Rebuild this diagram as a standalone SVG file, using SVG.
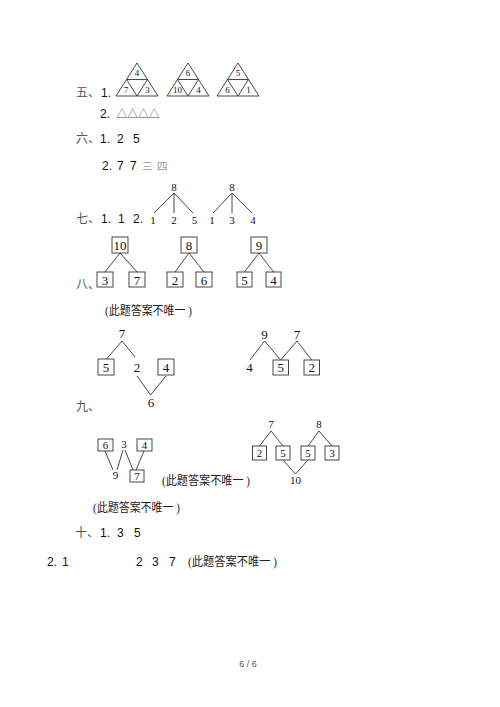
<svg xmlns="http://www.w3.org/2000/svg" width="500" height="707" viewBox="0 0 500 707">
<style>
.s{font-family:"Liberation Sans",Arial,sans-serif;font-size:12px;fill:#111}
.c{font-family:"Noto Sans CJK SC",sans-serif;font-size:12px;fill:#555}
.g{font-family:"Noto Sans CJK SC",sans-serif;font-size:10.5px;fill:#999}
.n{font-family:"Liberation Serif","Times New Roman",serif;fill:#111;text-anchor:middle}
.t8{font-size:9px}
.t10{font-size:11px}
.t13{font-size:13px}
.t11{font-size:11px}
.note{font-family:"Liberation Serif","Noto Sans CJK SC",serif;font-size:12px;fill:#222}
.ln{stroke:#333;stroke-width:0.9;fill:none}
.bx{stroke:#333;stroke-width:0.9;fill:#fff}
</style>
<rect width="500" height="707" fill="#fff"/>

<!-- 五 -->
<g id="label-wu">
<text class="c" x="76" y="97">五、</text>
<text class="s" x="101" y="97">1.</text>
</g>
<g id="tri1">
<path class="ln" d="M137,63 L116,96 L158,96 Z M126.5,79.5 L147.5,79.5 L137,96 Z"/>
<text class="n t8" x="137" y="76">4</text>
<text class="n t8" x="126" y="93">7</text>
<text class="n t8" x="147.5" y="93">3</text>
</g>
<g id="tri2">
<path class="ln" d="M188,63 L167,96 L209,96 Z M177.5,79.5 L198.5,79.5 L188,96 Z"/>
<text class="n t8" x="188" y="76">6</text>
<text class="n t8" x="177.5" y="93">10</text>
<text class="n t8" x="198.5" y="93">4</text>
</g>
<g id="tri3">
<path class="ln" d="M238,63 L217,96 L259,96 Z M227.5,79.5 L248.5,79.5 L238,96 Z"/>
<text class="n t8" x="238" y="76">5</text>
<text class="n t8" x="227.5" y="93">6</text>
<text class="n t8" x="248.5" y="93">1</text>
</g>
<g id="row-wu-2">
<text class="s" x="100" y="118">2.</text>
<text x="116.5" y="118" font-family="Noto Sans CJK SC,sans-serif" font-size="11" fill="#444" textLength="43" lengthAdjust="spacingAndGlyphs">△△△△</text>
</g>

<!-- 六 -->
<g id="label-liu">
<text class="c" x="76" y="143">六、</text>
<text class="s" x="100" y="143">1.</text>
<text class="s" x="117" y="143">2</text>
<text class="s" x="133" y="143">5</text>
</g>
<g id="row-liu-2">
<text class="s" x="102" y="170">2.</text>
<text class="s" x="117" y="170">7</text>
<text class="s" x="130" y="170">7</text>
<text class="g" x="142" y="170">三</text>
<text class="g" x="157" y="170">四</text>
</g>

<!-- 七 -->
<g id="label-qi">
<text class="c" x="76" y="223">七、</text>
<text class="s" x="101" y="223">1.</text>
<text class="s" x="118" y="223">1</text>
<text class="s" x="133" y="223">2.</text>
</g>
<g id="tree7a">
<text class="n t10" x="174" y="191">8</text>
<text class="n t10" x="153" y="224">1</text>
<text class="n t10" x="174" y="224">2</text>
<text class="n t10" x="194.5" y="224">5</text>
</g>
<g id="tree7b">
<text class="n t10" x="232" y="191">8</text>
<text class="n t10" x="212" y="224">1</text>
<text class="n t10" x="232" y="224">3</text>
<text class="n t10" x="253" y="224">4</text>
</g>

<!-- 八 -->
<g id="label-ba"><text class="c" x="76" y="289">八、</text></g>
<g id="tree8a">
<rect class="bx" x="112" y="237" width="16" height="16"/><text class="n t13" x="120" y="250">10</text>
<rect class="bx" x="97" y="272" width="16" height="15"/><text class="n t13" x="105" y="285">3</text>
<rect class="bx" x="129" y="272" width="16" height="15"/><text class="n t13" x="137" y="285">7</text>
</g>
<g id="tree8b">
<rect class="bx" x="181" y="237" width="16" height="16"/><text class="n t13" x="189" y="250">8</text>
<rect class="bx" x="167" y="272" width="16" height="15"/><text class="n t13" x="175" y="285">2</text>
<rect class="bx" x="196" y="272" width="16" height="15"/><text class="n t13" x="204" y="285">6</text>
</g>
<g id="tree8c">
<rect class="bx" x="251" y="237" width="16" height="16"/><text class="n t13" x="259" y="250">9</text>
<rect class="bx" x="237" y="272" width="15" height="15"/><text class="n t13" x="244.5" y="285">5</text>
<rect class="bx" x="266" y="272" width="15" height="15"/><text class="n t13" x="273.5" y="285">4</text>
</g>
<g id="note1"><text class="note" x="105" y="315" textLength="87" lengthAdjust="spacingAndGlyphs">(此题答案不唯一 )</text></g>

<!-- 九 -->
<g id="label-jiu"><text class="c" x="76" y="411">九、</text></g>
<g id="tree9a">
<text class="n t13" x="122" y="338">7</text>
<rect class="bx" x="98" y="359" width="16" height="16"/><text class="n t13" x="106" y="372">5</text>
<text class="n t13" x="137" y="372">2</text>
<rect class="bx" x="158" y="359" width="16" height="16"/><text class="n t13" x="166" y="372">4</text>
<text class="n t13" x="151" y="407">6</text>
</g>
<g id="tree9b">
<text class="n t13" x="264.5" y="339">9</text>
<text class="n t13" x="297" y="339">7</text>
<text class="n t13" x="249.5" y="372">4</text>
<rect class="bx" x="273" y="360" width="15.5" height="15"/><text class="n t13" x="280.7" y="372">5</text>
<rect class="bx" x="304" y="360" width="15.5" height="15"/><text class="n t13" x="311.7" y="372">2</text>
</g>
<g id="tree9c">
<rect class="bx" x="98" y="439" width="15" height="12"/><text class="n t11" x="105.5" y="449">6</text>
<text class="n t11" x="124" y="448">3</text>
<rect class="bx" x="137" y="439" width="15" height="12"/><text class="n t11" x="144.5" y="449">4</text>
<text class="n t11" x="115.5" y="479">9</text>
<rect class="bx" x="130" y="470" width="14" height="12"/><text class="n t11" x="137" y="480">7</text>
</g>
<g id="tree9d">
<text class="n t10" x="271" y="428">7</text>
<text class="n t10" x="319" y="428">8</text>
<rect class="bx" x="252.5" y="446" width="14" height="14"/><text class="n t10" x="259.5" y="457">2</text>
<rect class="bx" x="276" y="446" width="14" height="14"/><text class="n t10" x="283" y="457">5</text>
<rect class="bx" x="301" y="446" width="14" height="14"/><text class="n t10" x="308" y="457">5</text>
<rect class="bx" x="325" y="446" width="14" height="14"/><text class="n t10" x="332" y="457">3</text>
<text class="n t10" x="295.5" y="484">10</text>
</g>
<g id="note2"><text class="note" x="162" y="485" textLength="88" lengthAdjust="spacingAndGlyphs">(此题答案不唯一 )</text></g>
<g id="note3"><text class="note" x="93" y="512" textLength="87" lengthAdjust="spacingAndGlyphs">(此题答案不唯一 )</text></g>

<!-- 十 -->
<g id="label-shi">
<text class="c" x="75" y="537">十、</text>
<text class="s" x="100" y="537">1.</text>
<text class="s" x="117" y="537">3</text>
<text class="s" x="134" y="537">5</text>
</g>
<g id="row-shi-2">
<text class="s" x="47" y="566">2.</text>
<text class="s" x="62" y="566">1</text>
<text class="s" x="136" y="566">2</text>
<text class="s" x="152" y="566">3</text>
<text class="s" x="169" y="566">7</text>
<text class="note" x="188" y="566" textLength="89" lengthAdjust="spacingAndGlyphs">(此题答案不唯一 )</text>
</g>

<g id="page"><text x="248" y="667" font-family="Liberation Sans,Arial,sans-serif" font-size="9" fill="#555" text-anchor="middle">6 / 6</text></g>

<g id="connectors" class="ln">
<path d="M174,193 L154,213 M174,193 L174,213 M174,193 L193,213"/>
<path d="M232,193 L213,213 M232,193 L232,213 M232,193 L252,213"/>
<path d="M120,253 L105,272 M120,253 L137,272"/>
<path d="M189,253 L175,272 M189,253 L204,272"/>
<path d="M259,253 L244.5,272 M259,253 L273.5,272"/>
<path d="M122,341 L106.5,359 M122,341 L135,357"/>
<path d="M137,376 L150.5,395 L166,376"/>
<path d="M264.5,341 L250,360 M264.5,341 L280.7,360 L297,341 L311.7,360"/>
<path d="M105,451 L113,470 M117,470 L123,450 M125,450 L133,470 M136,470 L144,451"/>
<path d="M271,431 L259.5,446 M271,431 L283,446"/>
<path d="M319,431 L308,446 M319,431 L332,446"/>
<path d="M283,460 L295.5,474 L308,460"/>
</g>
</svg>
